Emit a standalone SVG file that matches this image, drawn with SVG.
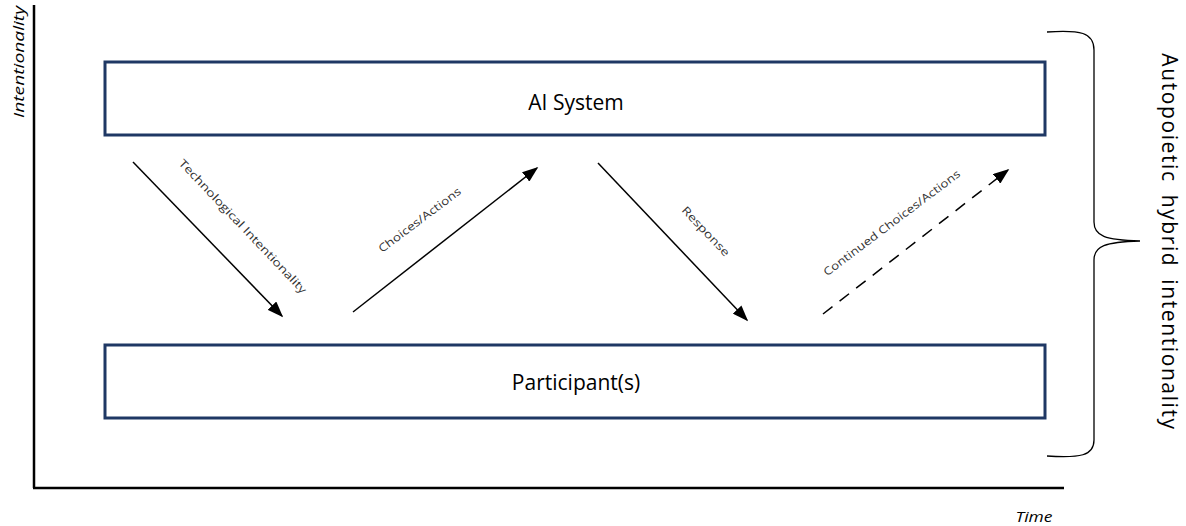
<svg xmlns="http://www.w3.org/2000/svg" width="1186" height="526" viewBox="0 0 1186 526">
<style>
.box{fill:#fff;stroke:#1f3864;stroke-width:3}
.axis{stroke:#000;stroke-width:2.5;fill:none}
.conn{stroke:#000;stroke-width:1.5;fill:none}
.lbl{font-family:"Open Sans","Noto Sans",sans-serif;font-size:11px;fill:#333}
.main{font-family:"Open Sans","Noto Sans",sans-serif;font-size:21px;fill:#000}
.ax{font-family:"Open Sans","Noto Sans",sans-serif;font-size:14px;font-style:italic;fill:#000}
</style>
<defs>
<marker id="ah2" viewBox="0 0 10 10" refX="9" refY="5" markerWidth="16" markerHeight="12" markerUnits="userSpaceOnUse" orient="auto" preserveAspectRatio="none">
<path d="M0,0 L10,5 L0,10 Z" fill="#000"/>
</marker>
</defs>
<rect width="1186" height="526" fill="#fff"/>
<g id="axes">
<line class="axis" x1="34" y1="5" x2="34" y2="488"/>
<line class="axis" x1="33" y1="488" x2="1064" y2="488"/>
<text class="ax" transform="translate(24,62) rotate(-90)" text-anchor="middle" textLength="112" lengthAdjust="spacingAndGlyphs">Intentionality</text>
<text class="ax" x="1034" y="522" text-anchor="middle" textLength="37" lengthAdjust="spacingAndGlyphs">Time</text>
</g>
<g id="ai-system">
<rect class="box" x="105" y="62" width="940" height="73"/>
<text class="main" x="576" y="110" text-anchor="middle">AI System</text>
</g>
<g id="participants">
<rect class="box" x="105" y="345" width="940" height="73"/>
<text class="main" x="576" y="390" text-anchor="middle">Participant(s)</text>
</g>
<g id="connectors">
<line class="conn" x1="133" y1="162" x2="282" y2="316" marker-end="url(#ah2)"/>
<line class="conn" x1="353" y1="312" x2="537" y2="168" marker-end="url(#ah2)"/>
<line class="conn" x1="598" y1="163" x2="747" y2="320" marker-end="url(#ah2)"/>
<line class="conn" x1="823" y1="314" x2="1008" y2="170" stroke-dasharray="12,9" marker-end="url(#ah2)"/>
<text class="lbl" transform="translate(240,229) rotate(46.5)" text-anchor="middle" textLength="180" lengthAdjust="spacingAndGlyphs">Technological Intentionality</text>
<text class="lbl" transform="translate(422,223) rotate(-37)" text-anchor="middle" textLength="100" lengthAdjust="spacingAndGlyphs">Choices/Actions</text>
<text class="lbl" transform="translate(703,234) rotate(46.5)" text-anchor="middle" textLength="64" lengthAdjust="spacingAndGlyphs">Response</text>
<text class="lbl" transform="translate(894,226) rotate(-37)" text-anchor="middle" textLength="168" lengthAdjust="spacingAndGlyphs">Continued Choices/Actions</text>
</g>
<g id="brace">
<path d="M1047,32 C1080,30 1094,32 1094,50 L1094,222 C1094,236 1105,240 1140,241 C1105,242 1094,246 1094,260 L1094,440 C1094,456 1080,458 1047,456" fill="none" stroke="#000" stroke-width="1.3"/>
<text class="main" transform="translate(1162,242) rotate(90)" text-anchor="middle" style="letter-spacing:1.6px;word-spacing:5px">Autopoietic hybrid intentionality</text>
</g>
</svg>
